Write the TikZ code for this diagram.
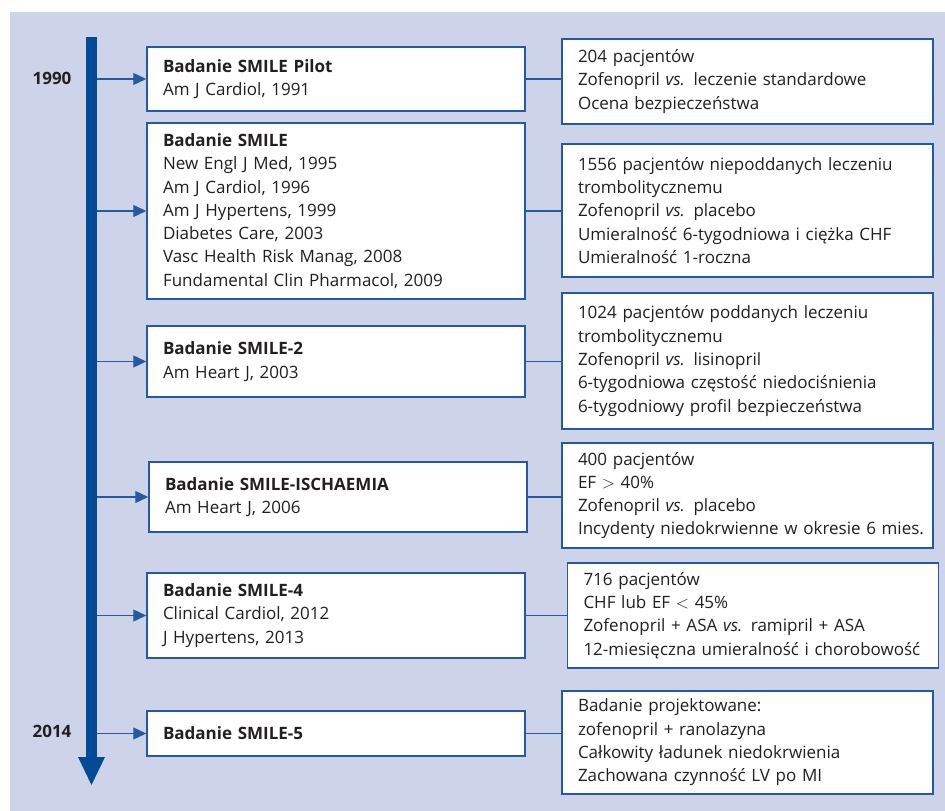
\documentclass[tikz,border=0pt]{standalone}
\usepackage{fontspec}
\setmainfont{Open Sans}
\usetikzlibrary{arrows.meta}

\definecolor{bgblue}{RGB}{205,211,232}
\definecolor{axisblue}{RGB}{0,74,150}
\definecolor{boxblue}{RGB}{38,90,160}
\definecolor{txtgray}{RGB}{35,31,32}

\tikzset{
	studybox/.style={draw=boxblue, line width=1.5pt, fill=white, text=txtgray, align=left,
		inner xsep=16pt, inner ysep=0pt, minimum width=378pt, text width=346pt,
		font=\fontsize{17}{23.3}\selectfont},
	resultbox/.style={studybox, minimum width=371pt, text width=339pt},
	yearlabel/.style={text=txtgray, font=\fontsize{17}{20}\selectfont\bfseries},
	tick/.style={boxblue, line width=1.3pt, -{Triangle[length=13pt,width=12pt]}},
	link/.style={boxblue, line width=1.3pt},
}

\begin{document}
\begin{tikzpicture}[x=1pt,y=-1pt]
	\useasboundingbox (0,0) rectangle (945,811);
	% Background
	\fill[bgblue] (10,12) rectangle (945,811);

	% Time axis
	\fill[axisblue] (86,37) rectangle (97,758);
	\fill[axisblue] (78,757) -- (105,757) -- (91.5,785) -- cycle;
	\coordinate (axis) at (97,0);

	% Years
	\node[yearlabel] (y1990) at (52,78) {1990};
	\node[yearlabel] (y2014) at (52,731) {2014};

	% Studies
	\node[studybox, minimum height=64pt] (pilot) at (336,79)
		{\textbf{Badanie SMILE Pilot}\\Am J Cardiol, 1991};
	\node[studybox, minimum height=176pt] (smile) at (336,211)
		{\textbf{Badanie SMILE}\\New Engl J Med, 1995\\Am J Cardiol, 1996\\Am J Hypertens, 1999\\Diabetes Care, 2003\\Vasc Health Risk Manag, 2008\\Fundamental Clin Pharmacol, 2009};
	\node[studybox, minimum height=71pt] (smile2) at (336,361.5)
		{\textbf{Badanie SMILE-2}\\Am Heart J, 2003};
	\node[studybox, minimum height=70pt] (ischaemia) at (338,497)
		{\textbf{Badanie SMILE-ISCHAEMIA}\\Am Heart J, 2006};
	\node[studybox, minimum height=85pt] (smile4) at (336,615.5)
		{\textbf{Badanie SMILE-4}\\Clinical Cardiol, 2012\\J Hypertens, 2013};
	\node[studybox, minimum height=45pt] (smile5) at (336,733.5)
		{\textbf{Badanie SMILE-5}};

	% Results
	\node[resultbox, minimum height=85pt] (pilotres) at (747.5,81.5)
		{204 pacjentów\\Zofenopril \textit{vs.} leczenie standardowe\\Ocena bezpieczeństwa};
	\node[resultbox, minimum height=133pt] (smileres) at (747.5,210.5)
		{1556 pacjentów niepoddanych leczeniu\\trombolitycznemu\\Zofenopril \textit{vs.} placebo\\Umieralność 6-tygodniowa i ciężka CHF\\Umieralność 1-roczna};
	\node[resultbox, minimum height=136pt] (smile2res) at (747.5,361)
		{1024 pacjentów poddanych leczeniu\\trombolitycznemu\\Zofenopril \textit{vs.} lisinopril\\6-tygodniowa częstość niedociśnienia\\6-tygodniowy profil bezpieczeństwa};
	\node[resultbox, minimum height=105pt] (ischaemiares) at (747.5,495.5)
		{400 pacjentów\\EF $>$ 40\%\\Zofenopril \textit{vs.} placebo\\\mbox{Incydenty niedokrwienne w okresie 6 mies.}};
	\node[resultbox, minimum height=105pt] (smile4res) at (753,615.5)
		{716 pacjentów\\CHF lub EF $<$ 45\%\\Zofenopril + ASA \textit{vs.} ramipril + ASA\\12-miesięczna umieralność i chorobowość};
	\node[resultbox, minimum height=103pt] (smile5res) at (747.5,742.5)
		{Badanie projektowane:\\zofenopril + ranolazyna\\Całkowity ładunek niedokrwienia\\Zachowana czynność LV po MI};

	% Ticks from the axis
	\foreach \s in {pilot,smile,smile2,ischaemia,smile4,smile5}
		\draw[tick] (\s.west -| axis) -- (\s.west);

	% Links to results
	\foreach \s in {pilot,smile,smile2,ischaemia,smile4,smile5}
		\draw[link] (\s.east) -- (\s.east -| \s res.west);
\end{tikzpicture}
\end{document}
